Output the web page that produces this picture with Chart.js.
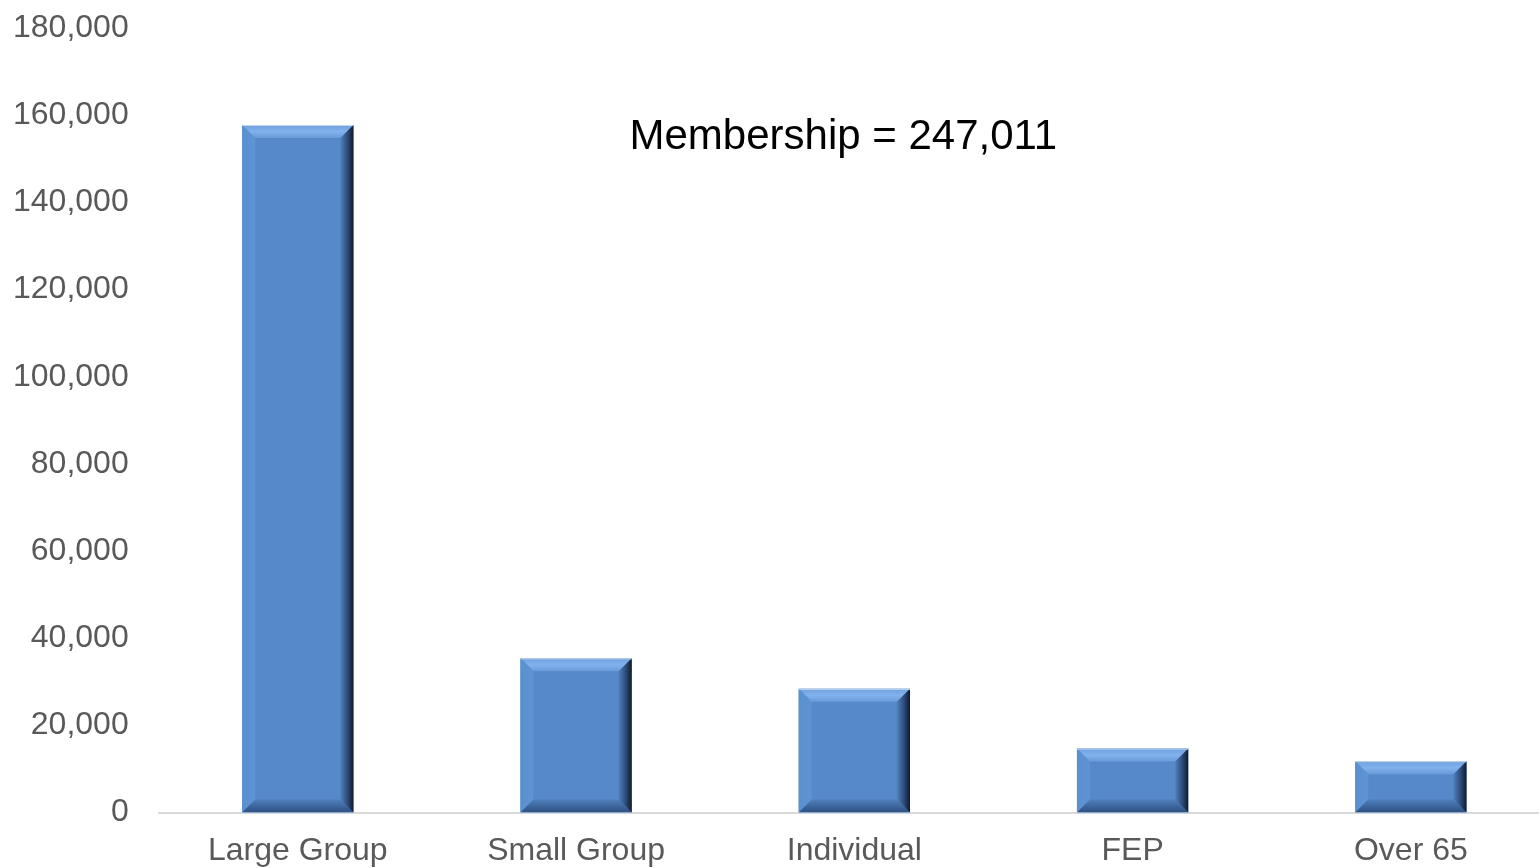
<!DOCTYPE html>
<html>
<head>
<meta charset="utf-8">
<script src="https://cdn.jsdelivr.net/npm/chart.js@4"></script>
<style>
  html, body { margin: 0; padding: 0; background: #ffffff; overflow: hidden; }
  #wrap { width: 1539px; height: 868px; overflow: hidden; position: relative; }
  #wrap canvas { position: absolute; left: -17px; top: -21px; }
</style>
</head>
<body>
<div id="wrap">
  <canvas id="myChart" width="1569" height="910" style="width:1569px;height:910px"></canvas>
</div>
<script>
const categorias = ["Large Group", "Small Group", "Individual", "FEP", "Over 65"];
const miembros = [157800, 35400, 28400, 14700, 11800];
const yTicks = [0, 20000, 40000, 60000, 80000, 100000, 120000, 140000, 160000, 180000];
const nota = "Membership = 247,011";

const fuente = '"Liberation Sans", Arial, sans-serif';

// dibuja el efecto biselado encima de cada barra
const biselPlugin = {
    id: "bisel",
    afterDatasetsDraw(chart) {
        const ctx = chart.ctx;
        const meta = chart.getDatasetMeta(0);
        meta.data.forEach(bar => {
            const p = bar.getProps(["x", "y", "base", "width"], true);
            const l = p.x - p.width / 2;
            const r = p.x + p.width / 2;
            const t = Math.min(p.y, p.base);
            const bo = Math.max(p.y, p.base);
            const b = Math.min(13, (bo - t) / 2);
            ctx.save();

            let g = ctx.createLinearGradient(0, t, 0, t + b);
            g.addColorStop(0, "#6f9fdc");
            g.addColorStop(0.5, "#82b2ee");
            g.addColorStop(1, "#6a9bd9");
            ctx.fillStyle = g;
            ctx.beginPath();
            ctx.moveTo(l, t); ctx.lineTo(r, t); ctx.lineTo(r - b, t + b); ctx.lineTo(l + b, t + b);
            ctx.closePath(); ctx.fill();

            g = ctx.createLinearGradient(l, 0, l + b, 0);
            g.addColorStop(0, "#5a8fd0");
            g.addColorStop(1, "#5e93d4");
            ctx.fillStyle = g;
            ctx.beginPath();
            ctx.moveTo(l, t); ctx.lineTo(l + b, t + b); ctx.lineTo(l + b, bo - b); ctx.lineTo(l, bo);
            ctx.closePath(); ctx.fill();

            g = ctx.createLinearGradient(0, bo - b, 0, bo);
            g.addColorStop(0, "#4f7fbb");
            g.addColorStop(1, "#2c4f80");
            ctx.fillStyle = g;
            ctx.beginPath();
            ctx.moveTo(l, bo); ctx.lineTo(r, bo); ctx.lineTo(r - b, bo - b); ctx.lineTo(l + b, bo - b);
            ctx.closePath(); ctx.fill();

            g = ctx.createLinearGradient(r - b, 0, r, 0);
            g.addColorStop(0, "#4f80bd");
            g.addColorStop(0.6, "#2a4570");
            g.addColorStop(1, "#0f1a2b");
            ctx.fillStyle = g;
            ctx.beginPath();
            ctx.moveTo(r, t); ctx.lineTo(r - b, t + b); ctx.lineTo(r - b, bo - b); ctx.lineTo(r, bo);
            ctx.closePath(); ctx.fill();

            ctx.strokeStyle = "#c6d9f1";
            ctx.lineWidth = 1;
            ctx.beginPath();
            ctx.moveTo(l, t + 0.5); ctx.lineTo(r, t + 0.5);
            ctx.moveTo(l, bo + 0.5); ctx.lineTo(r, bo + 0.5);
            ctx.stroke();
            ctx.restore();
        });
    },
    afterDraw(chart) {
        const ctx = chart.ctx;
        const x = chart.scales.x.getPixelForValue(2) - 11;
        const y = chart.scales.y.getPixelForValue(152200);
        ctx.save();
        ctx.font = "42px " + fuente;
        ctx.fillStyle = "#000000";
        ctx.textAlign = "center";
        ctx.textBaseline = "alphabetic";
        ctx.fillText(nota, x, y);
        ctx.restore();
    }
};

function renderGrafica() {
    const myChart = document.getElementById("myChart");
    new Chart(myChart, {
        type: "bar",
        data: {
            labels: categorias,
            datasets: [{
                data: miembros,
                backgroundColor: "#5689c9",
                borderWidth: 0,
                barPercentage: 0.4,
                categoryPercentage: 1
            }]
        },
        options: {
            responsive: false,
            animation: false,
            layout: { padding: { left: 0, top: 4, right: 2, bottom: 0 } },
            plugins: { legend: { display: false }, tooltip: { enabled: false } },
            scales: {
                x: {
                    grid: { display: false, drawTicks: false },
                    border: { display: true, color: "#d9d9d9", width: 2 },
                    ticks: { color: "#595959", font: { family: fuente, size: 32 }, padding: 19 }
                },
                y: {
                    min: 0,
                    max: 180000,
                    afterBuildTicks: axis => { axis.ticks = yTicks.map(v => ({ value: v })); },
                    grid: { display: false, drawTicks: false },
                    border: { display: false },
                    ticks: {
                        color: "#595959",
                        font: { family: fuente, size: 32 },
                        padding: 30,
                        callback: v => v.toLocaleString("en-US")
                    }
                }
            }
        },
        plugins: [biselPlugin]
    });
}

renderGrafica();
</script>
</body>
</html>
